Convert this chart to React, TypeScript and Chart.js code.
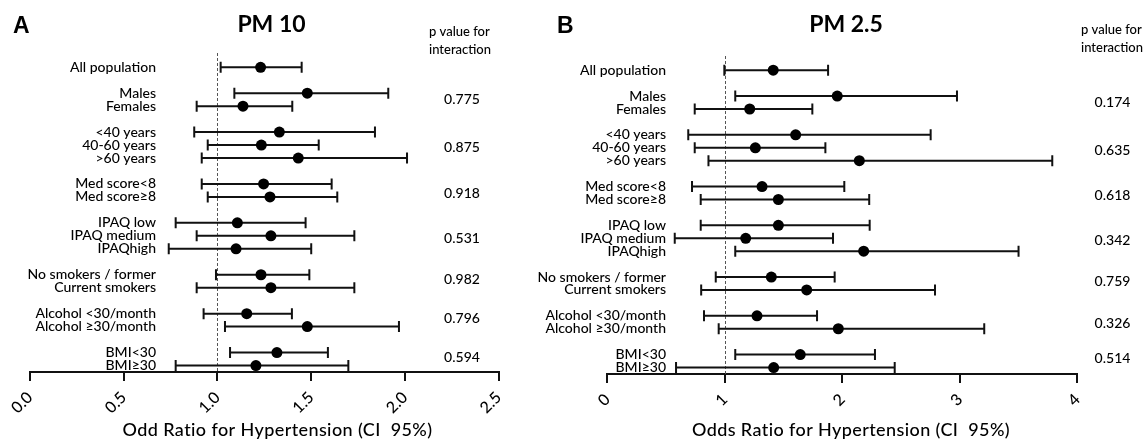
import React, { useEffect, useRef } from "react";
import { Chart, registerables } from "chart.js";
Chart.register(...registerables);

// ---- data ----
const subgroups = [
  "All population",
  "Males", "Females",
  "<40 years", "40-60 years", ">60 years",
  "Med score<8", "Med score≥8",
  "IPAQ low", "IPAQ medium", "IPAQhigh",
  "No smokers / former", "Current smokers",
  "Alcohol <30/month", "Alcohol ≥30/month",
  "BMI<30", "BMI≥30",
];
// row index of each subgroup (blank rows separate the groups)
const rowIndex = [0, 2, 3, 5, 6, 7, 9, 10, 12, 13, 14, 16, 17, 19, 20, 22, 23];

const pm10OR = [1.23, 1.479, 1.136, 1.33, 1.234, 1.431, 1.246, 1.28, 1.106, 1.285, 1.099, 1.232, 1.285, 1.156, 1.479, 1.317, 1.205];
const pm10Low = [1.017, 1.09, 0.889, 0.876, 0.948, 0.916, 0.916, 0.948, 0.777, 0.889, 0.74, 0.992, 0.889, 0.926, 1.04, 1.067, 0.777];
const pm10High = [1.449, 1.911, 1.399, 1.84, 1.54, 2.011, 1.609, 1.639, 1.47, 1.73, 1.5, 1.49, 1.73, 1.397, 1.968, 1.589, 1.698];
const pm10P = ["0.775", "0.875", "0.918", "0.531", "0.982", "0.796", "0.594"];
const pm10PRow = [2.43, 6.16, 9.71, 13.14, 16.36, 19.31, 22.37];

const pm25OR = [1.412, 1.957, 1.212, 1.603, 1.26, 2.145, 1.317, 1.456, 1.456, 1.178, 2.182, 1.396, 1.697, 1.274, 1.966, 1.642, 1.416];
const pm25Low = [0.996, 1.089, 0.744, 0.689, 0.744, 0.861, 0.721, 0.795, 0.795, 0.574, 1.089, 0.923, 0.799, 0.823, 0.948, 1.089, 0.585];
const pm25High = [1.879, 2.976, 1.745, 2.752, 1.856, 3.787, 2.017, 2.229, 2.233, 1.921, 3.5, 1.935, 2.789, 1.785, 3.208, 2.278, 2.446];
const pm25P = ["0.174", "0.635", "0.618", "0.342", "0.759", "0.326", "0.514"];
const pm25PRow = [2.47, 6.19, 9.67, 13.15, 16.3, 19.54, 22.3];

const pm10Ticks = { min: 0, max: 2.5, step: 0.5, decimals: 1 };
const pm25Ticks = { min: 0, max: 4, step: 1, decimals: 0 };

const ROW_MIN = -1.1;
const ROW_MAX = 23.5;

const TEXT = "#000";

const forestPlugin = {
  id: "forest",
  beforeDatasetsDraw(chart: any, _a: any, o: any) {
    const { ctx, chartArea, scales } = chart;
    const x = scales.x, y = scales.y;
    ctx.save();
    // reference line at OR = 1
    ctx.strokeStyle = "#555";
    ctx.lineWidth = 1;
    ctx.setLineDash([3, 2]);
    const rx = Math.round(x.getPixelForValue(1)) + 0.5;
    ctx.beginPath();
    ctx.moveTo(rx, chartArea.top);
    ctx.lineTo(rx, chartArea.bottom);
    ctx.stroke();
    ctx.setLineDash([]);
    // CI whiskers
    ctx.strokeStyle = "#111";
    ctx.lineWidth = 2;
    o.low.forEach((lo: number, i: number) => {
      const yy = y.getPixelForValue(o.rows[i]);
      const x1 = x.getPixelForValue(lo);
      const x2 = x.getPixelForValue(o.high[i]);
      ctx.beginPath();
      ctx.moveTo(x1, yy);
      ctx.lineTo(x2, yy);
      ctx.moveTo(x1, yy - 5.5);
      ctx.lineTo(x1, yy + 5.5);
      ctx.moveTo(x2, yy - 5.5);
      ctx.lineTo(x2, yy + 5.5);
      ctx.stroke();
    });
    ctx.restore();
  },
  afterDraw(chart: any, _a: any, o: any) {
    const { ctx, scales } = chart;
    const y = scales.y;
    ctx.save();
    ctx.fillStyle = "#000";
    // panel letter
    ctx.font = "bold 23px 'Liberation Sans'";
    ctx.textAlign = "left";
    ctx.textBaseline = "alphabetic";
    ctx.fillText(o.letter, o.letterX, 33);
    // panel title
    ctx.font = "bold 23px Lato";
    ctx.textAlign = "center";
    ctx.fillText(o.title, o.titleX, 32);
    // row labels
    ctx.fillStyle = TEXT;
    ctx.font = "500 14px Lato";
    ctx.textAlign = "right";
    o.labels.forEach((lab: string, i: number) => {
      ctx.fillText(lab, o.labelRight, y.getPixelForValue(o.rows[i]) + 4.5);
    });
    // p values
    ctx.textAlign = "center";
    o.pvals.forEach((p: string, i: number) => {
      ctx.fillText(p, o.pX, y.getPixelForValue(o.pRows[i]) + 5);
    });
    // p header
    ctx.font = "500 13px Lato";
    ctx.textAlign = "left";
    ctx.fillText("p value for", o.headX, o.headY);
    ctx.fillText("interaction", o.headX, o.headY + 18);
    // axis title
    ctx.font = "500 18px Lato";
    (ctx as any).letterSpacing = "0.4px";
    ctx.textAlign = "center";
    ctx.fillText(o.axisTitle, o.axisTitleX, 436);
    ctx.restore();
  },
};

function makeConfig(p: any) {
  return {
    type: "scatter",
    data: {
      datasets: [
        {
          data: p.or.map((v: number, i: number) => ({ x: v, y: rowIndex[i] })),
          pointRadius: 5.5,
          pointHoverRadius: 5.5,
          backgroundColor: "#000",
          borderWidth: 0,
        },
      ],
    },
    options: {
      responsive: false,
      animation: false,
      events: [],
      layout: { padding: { left: p.padLeft, right: p.padRight, top: p.padTop, bottom: 0 } },
      plugins: {
        legend: { display: false },
        tooltip: { enabled: false },
        title: { display: false },
        forest: {
          low: p.low,
          high: p.high,
          rows: rowIndex,
          labels: subgroups,
          pvals: p.pvals,
          pRows: p.pRows,
          letter: p.letter,
          letterX: p.letterX,
          title: p.title,
          titleX: p.titleX,
          labelRight: p.labelRight,
          pX: p.pX,
          headX: p.headX,
          headY: p.headY,
          axisTitle: p.axisTitle,
          axisTitleX: p.axisTitleX,
        },
      },
      scales: {
        x: {
          type: "linear",
          position: "bottom",
          min: p.ticks.min,
          max: p.ticks.max,
          afterBuildTicks: (s: any) => {
            const t = [];
            for (let v = p.ticks.min; v <= p.ticks.max + 1e-9; v += p.ticks.step) t.push({ value: v });
            s.ticks = t;
          },
          afterFit: (s: any) => {
            s.height = p.axisHeight;
          },
          border: { display: true, color: "#111", width: 2 },
          grid: {
            display: true,
            drawOnChartArea: false,
            drawTicks: true,
            tickLength: 9,
            color: "#111",
            lineWidth: 2,
          },
          ticks: {
            color: TEXT,
            font: { family: "Lato", size: 16, weight: 500 },
            minRotation: 45,
            maxRotation: 45,
            padding: 7,
            autoSkip: false,
            callback: (v: any) => Number(v).toFixed(p.ticks.decimals),
          },
        },
        y: {
          type: "linear",
          display: false,
          reverse: true,
          min: ROW_MIN,
          max: ROW_MAX,
        },
      },
    },
    plugins: [forestPlugin],
  };
}

const LEFT_W = 545;
const RIGHT_X = 495;
const RIGHT_W = 1145 - RIGHT_X;

const leftPanel = {
  or: pm10OR, low: pm10Low, high: pm10High, pvals: pm10P, pRows: pm10PRow, ticks: pm10Ticks,
  padLeft: 30, padRight: LEFT_W - 498.7, padTop: 53, axisHeight: 70,
  letter: "A", letterX: 13, title: "PM 10", titleX: 271.5,
  labelRight: 156, pX: 462, headX: 429, headY: 36,
  axisTitle: "Odd Ratio for Hypertension (CI  95%)", axisTitleX: 277.5,
};

const rightPanel = {
  or: pm25OR, low: pm25Low, high: pm25High, pvals: pm25P, pRows: pm25PRow, ticks: pm25Ticks,
  padLeft: 607.3 - RIGHT_X, padRight: 1145 - 1077.3, padTop: 56, axisHeight: 68,
  letter: "B", letterX: 557 - RIGHT_X, title: "PM 2.5", titleX: 846 - RIGHT_X,
  labelRight: 666 - RIGHT_X, pX: 1112.5 - RIGHT_X, headX: 1081 - RIGHT_X, headY: 34,
  axisTitle: "Odds Ratio for Hypertension (CI  95%)", axisTitleX: 851 - RIGHT_X,
};

function Panel({ cfg, left, width }: { cfg: any; left: number; width: number }) {
  const ref = useRef<HTMLCanvasElement | null>(null);
  useEffect(() => {
    if (!ref.current) return;
    const chart = new Chart(ref.current, makeConfig(cfg) as any);
    return () => chart.destroy();
  }, [cfg]);
  return (
    <canvas
      ref={ref}
      width={width}
      height={442}
      style={{ position: "absolute", left, top: 0, width, height: 442 }}
    />
  );
}

export default function App() {
  return (
    <div style={{ position: "absolute", left: 0, top: 0, width: 1145, height: 442, background: "#fff", overflow: "hidden" }}>
      <Panel cfg={leftPanel} left={0} width={LEFT_W} />
      <Panel cfg={rightPanel} left={RIGHT_X} width={RIGHT_W} />
    </div>
  );
}
